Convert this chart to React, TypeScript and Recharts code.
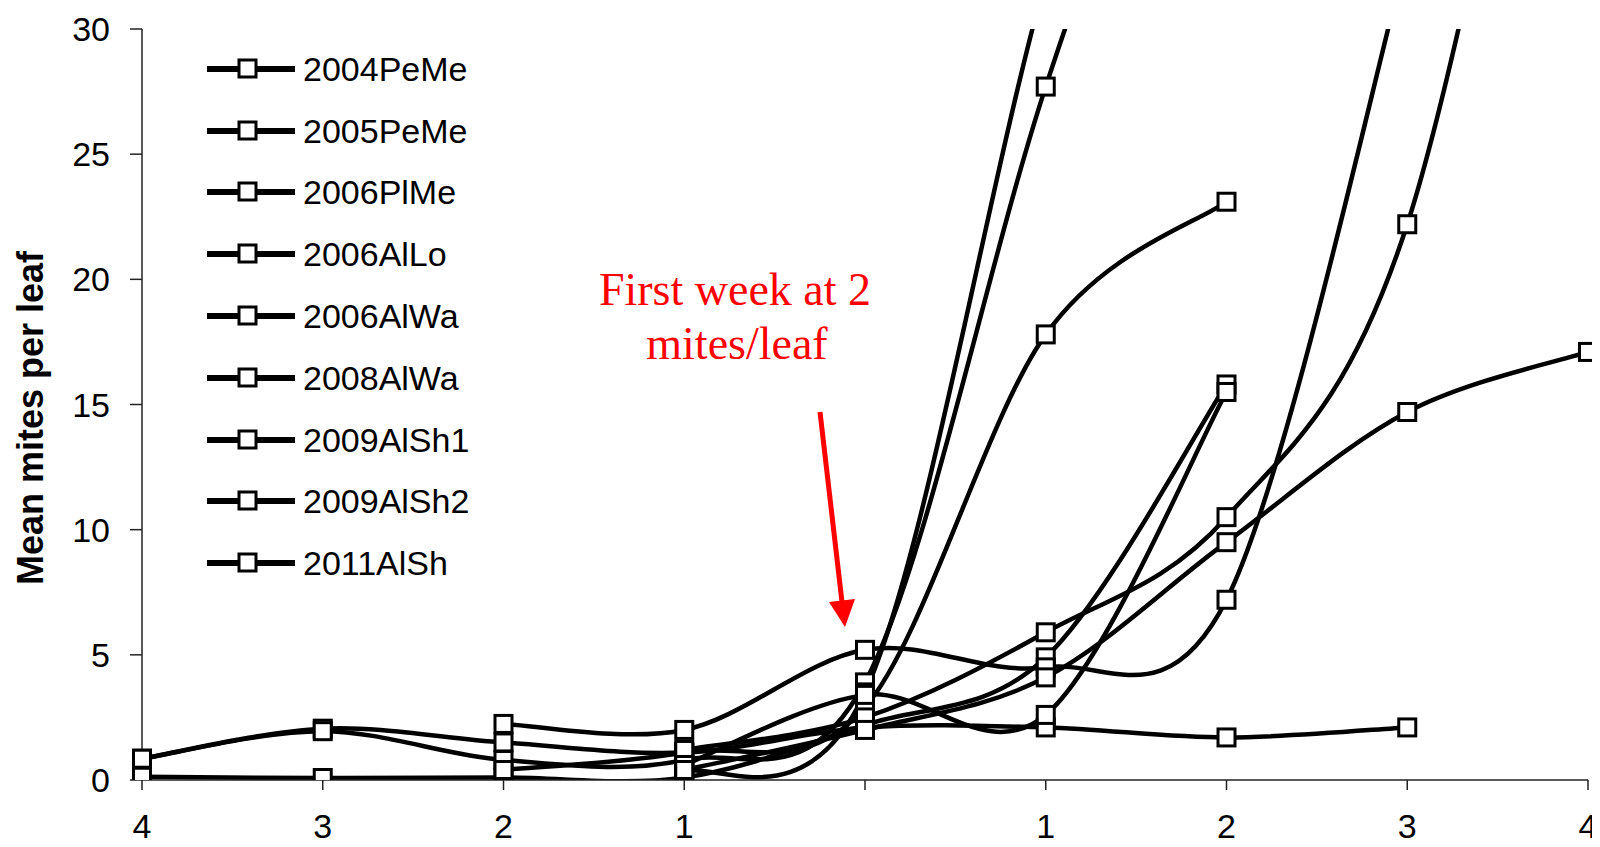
import React from 'react';
import { LineChart, Line, XAxis, YAxis, Legend, Customized } from 'recharts';

// weeks before / after the first week at 2 mites per leaf
const weekLabels = ['4', '3', '2', '1', '', '1', '2', '3', '4'];
const yTicks = [0, 5, 10, 15, 20, 25, 30];

const seriesNames = [
  '2004PeMe',
  '2005PeMe',
  '2006PlMe',
  '2006AlLo',
  '2006AlWa',
  '2008AlWa',
  '2009AlSh1',
  '2009AlSh2',
  '2011AlSh',
];

const pe2004 = [0.85, 2.05, 1.5, 1.1, 2.1, 2.1, 1.7, 2.1, null];
const pe2005 = [0.13, 0.08, 0.1, 0.1, 2.2, 4.9, 15.8, null, null];
const pl2006 = [0.85, 1.95, 0.8, 0.8, 3.9, 27.7, 48, null, null];
const lo2006 = [null, null, 2.24, 2.0, 5.2, 4.5, 7.2, 33, null];
const wa2006 = [null, null, null, 0.3, 3.5, 32, 55, null, null];
const wa2008 = [null, null, 0.4, 1.1, 2.9, 17.8, 23.1, null, null];
const sh2009a = [null, null, null, 1.2, 2.5, 5.9, 10.5, 22.2, 55];
const sh2009b = [null, null, null, 0.6, 3.4, 2.6, 15.5, null, null];
const sh2011 = [null, null, null, 0.4, 2.0, 4.1, 9.5, 14.7, 17.1];

const seriesValues = [pe2004, pe2005, pl2006, lo2006, wa2006, wa2008, sh2009a, sh2009b, sh2011];

const data = weekLabels.map((label, i) => {
  const row: { [key: string]: number | string | null } = { week: i, label };
  seriesNames.forEach((name, s) => {
    row[name] = seriesValues[s][i];
  });
  return row;
});

const SANS = '"Liberation Sans", Arial, sans-serif';
const SERIF = '"Liberation Serif", "Times New Roman", serif';

// Excel-like smoothed line (uniform Catmull-Rom as cubic beziers)
const smoothCurve = (context: any) => {
  let xs: number[] = [];
  let ys: number[] = [];
  return {
    areaStart() {},
    areaEnd() {},
    lineStart() {
      xs = [];
      ys = [];
    },
    point(x: number, y: number) {
      xs.push(+x);
      ys.push(+y);
    },
    lineEnd() {
      const n = xs.length;
      if (!n) return;
      context.moveTo(xs[0], ys[0]);
      if (n === 1) {
        context.lineTo(xs[0], ys[0]);
        return;
      }
      for (let i = 0; i < n - 1; i++) {
        const a = Math.max(i - 1, 0);
        const d = Math.min(i + 2, n - 1);
        context.bezierCurveTo(
          xs[i] + (xs[i + 1] - xs[a]) / 6,
          ys[i] + (ys[i + 1] - ys[a]) / 6,
          xs[i + 1] - (xs[d] - xs[i]) / 6,
          ys[i + 1] - (ys[d] - ys[i]) / 6,
          xs[i + 1],
          ys[i + 1]
        );
      }
    },
  };
};

const SquareDot = (props: any) => {
  const { cx, cy, index, dataKey, value } = props;
  const key = `${dataKey}-${index}`;
  if (cx == null || cy == null || value == null) return <g key={key} />;
  return (
    <rect key={key} x={cx - 8.5} y={cy - 8.5} width={17} height={17} fill="#fff" stroke="#000" strokeWidth={3} />
  );
};

const LegendBox = () => (
  <div style={{ fontFamily: SANS, fontSize: 34, color: '#000' }}>
    {seriesNames.map((name) => (
      <div key={name} style={{ display: 'flex', alignItems: 'center', height: 61.8 }}>
        <svg width={92} height={26} style={{ flex: 'none' }}>
          <line x1={2} y1={13} x2={90} y2={13} stroke="#000" strokeWidth={6} />
          <rect x={34} y={4} width={17} height={17} fill="#fff" stroke="#000" strokeWidth={3} />
        </svg>
        <span style={{ marginLeft: 6, lineHeight: 1 }}>{name}</span>
      </div>
    ))}
  </div>
);

const Annotation = () => (
  <g>
    <text x={735} y={305} textAnchor="middle" fill="#ff0000" fontFamily={SERIF} fontSize={46}>
      First week at 2
    </text>
    <text x={737} y={359} textAnchor="middle" fill="#ff0000" fontFamily={SERIF} fontSize={46}>
      mites/leaf
    </text>
    <line x1={820} y1={412} x2={842} y2={602} stroke="#ff0000" strokeWidth={5} />
    <polygon points="845,627 855,599 829,602" fill="#ff0000" />
  </g>
);

const YTitle = () => (
  <text
    x={43}
    y={418}
    transform="rotate(-90 43 418)"
    textAnchor="middle"
    fontFamily={SANS}
    fontWeight="bold"
    fontSize={36}
    fill="#000"
  >
    Mean mites per leaf
  </text>
);

export default function App() {
  return (
    <div style={{ margin: -8, width: 1600, height: 847, background: '#fff' }}>
      <LineChart width={1600} height={847} data={data} margin={{ top: 29, right: 12, bottom: 7, left: 42 }}>
        <XAxis
          dataKey="week"
          type="category"
          height={60}
          tickFormatter={(i: number) => weekLabels[i]}
          interval={0}
          tickSize={10}
          tickMargin={24}
          axisLine={{ stroke: '#222', strokeWidth: 1.5 }}
          tickLine={{ stroke: '#222', strokeWidth: 1.5 }}
          tick={{ fill: '#000', fontSize: 34, fontFamily: SANS }}
        />
        <YAxis
          width={100}
          domain={[0, 30]}
          ticks={yTicks}
          allowDataOverflow
          interval={0}
          tickSize={12}
          tickMargin={20}
          axisLine={{ stroke: '#222', strokeWidth: 1.5 }}
          tickLine={{ stroke: '#222', strokeWidth: 1.5 }}
          tick={{ fill: '#000', fontSize: 34, fontFamily: SANS }}
          label={{ content: () => <YTitle /> }}
        />
        <Legend
          layout="vertical"
          align="center"
          verticalAlign="middle"
          wrapperStyle={{ left: 205, top: 38, width: 340 }}
          content={() => <LegendBox />}
        />
        {seriesNames.map((name) => (
          <Line
            key={name}
            dataKey={name}
            name={name}
            type={smoothCurve as any}
            stroke="#000"
            strokeWidth={4.5}
            dot={SquareDot}
            activeDot={false}
            isAnimationActive={false}
          />
        ))}
        <Customized component={Annotation} />
      </LineChart>
    </div>
  );
}
